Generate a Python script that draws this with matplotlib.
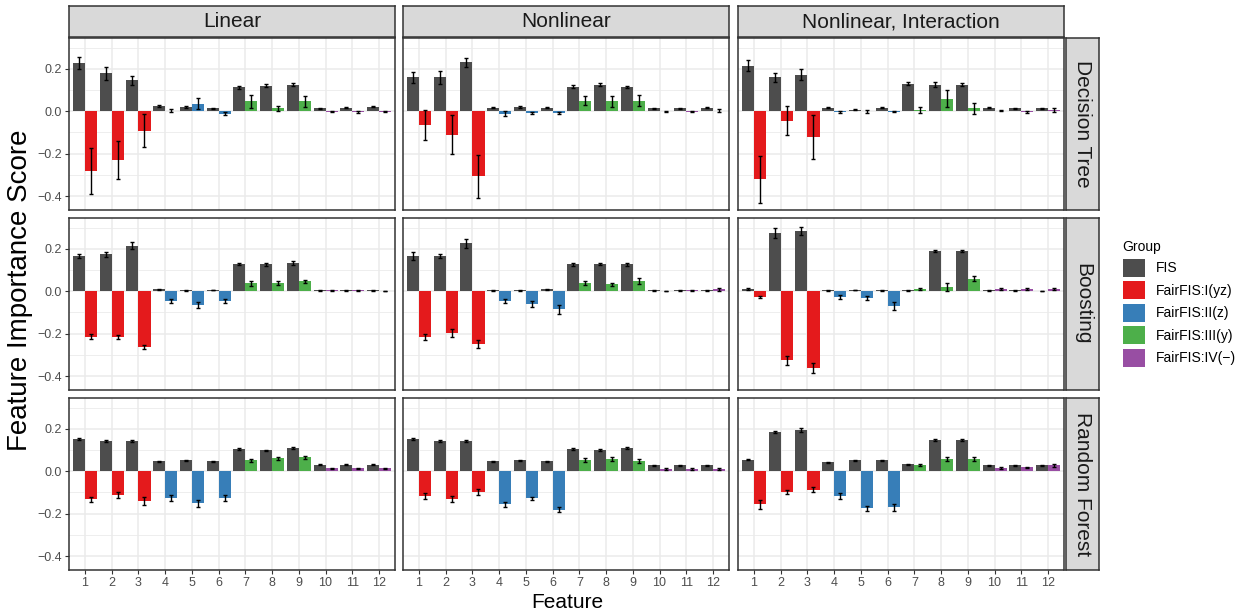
import numpy as np
import matplotlib.pyplot as plt
from matplotlib.patches import Patch

plt.rcParams['font.family'] = ['Liberation Sans', 'DejaVu Sans']

features = np.arange(1, 13)
settings = ["Linear", "Nonlinear", "Nonlinear, Interaction"]
models = ["Decision Tree", "Boosting", "Random Forest"]
groups = ["FIS", "FairFIS:I(yz)", "FairFIS:II(z)", "FairFIS:III(y)", "FairFIS:IV(\u2212)"]
group_colors = ["#4D4D4D", "#E41A1C", "#377EB8", "#4DAF4A", "#984EA3"]
# group of the FairFIS bar for each feature (index into groups)
feature_group = [1, 1, 1, 2, 2, 2, 3, 3, 3, 4, 4, 4]

# rows: Linear, Nonlinear, Nonlinear Interaction
dt_fis = [[0.228, 0.178, 0.145, 0.024, 0.019, 0.014, 0.112, 0.121, 0.126, 0.014, 0.017, 0.022],
          [0.159, 0.159, 0.230, 0.017, 0.022, 0.017, 0.116, 0.126, 0.116, 0.013, 0.013, 0.017],
          [0.215, 0.159, 0.173, 0.017, 0.008, 0.017, 0.130, 0.126, 0.126, 0.017, 0.013, 0.013]]
dt_fis_se = [[0.027, 0.030, 0.020, 0.005, 0.004, 0.003, 0.006, 0.008, 0.007, 0.003, 0.003, 0.003],
             [0.026, 0.029, 0.020, 0.004, 0.005, 0.003, 0.007, 0.008, 0.005, 0.003, 0.003, 0.003],
             [0.026, 0.022, 0.025, 0.004, 0.003, 0.004, 0.006, 0.012, 0.006, 0.003, 0.003, 0.003]]
dt_fair = [[-0.283, -0.228, -0.091, 0.003, 0.036, -0.011, 0.046, 0.013, 0.046, -0.002, -0.005, -0.002],
           [-0.066, -0.110, -0.307, -0.011, -0.009, -0.008, 0.050, 0.046, 0.050, 0.000, -0.003, 0.002],
           [-0.320, -0.044, -0.121, -0.003, 0.000, -0.002, 0.008, 0.060, 0.013, 0.003, -0.003, 0.005]]
dt_fair_se = [[0.108, 0.089, 0.076, 0.006, 0.026, 0.007, 0.030, 0.010, 0.027, 0.002, 0.004, 0.003],
              [0.071, 0.092, 0.103, 0.010, 0.004, 0.004, 0.020, 0.026, 0.026, 0.002, 0.002, 0.007],
              [0.111, 0.068, 0.102, 0.003, 0.006, 0.003, 0.014, 0.039, 0.027, 0.003, 0.003, 0.010]]

bo_fis = [[0.165, 0.175, 0.214, 0.009, 0.005, 0.006, 0.129, 0.127, 0.134, 0.005, 0.005, 0.005],
          [0.165, 0.165, 0.226, 0.005, 0.005, 0.009, 0.127, 0.127, 0.127, 0.005, 0.005, 0.005],
          [0.009, 0.274, 0.283, 0.005, 0.006, 0.005, 0.005, 0.189, 0.189, 0.005, 0.005, 0.001]]
bo_fis_se = [[0.010, 0.012, 0.016, 0.002, 0.002, 0.002, 0.004, 0.006, 0.008, 0.002, 0.002, 0.002],
             [0.018, 0.010, 0.020, 0.002, 0.002, 0.002, 0.008, 0.005, 0.008, 0.002, 0.002, 0.002],
             [0.005, 0.025, 0.020, 0.002, 0.002, 0.002, 0.002, 0.005, 0.005, 0.002, 0.002, 0.002]]
bo_fair = [[-0.215, -0.215, -0.263, -0.046, -0.064, -0.046, 0.038, 0.038, 0.047, 0.005, 0.005, 0.001],
           [-0.215, -0.197, -0.248, -0.046, -0.060, -0.085, 0.038, 0.033, 0.047, 0.001, 0.005, 0.009],
           [-0.027, -0.325, -0.362, -0.027, -0.033, -0.069, 0.009, 0.019, 0.060, 0.009, 0.009, 0.009]]
bo_fair_se = [[0.012, 0.010, 0.010, 0.010, 0.015, 0.010, 0.012, 0.010, 0.007, 0.002, 0.002, 0.002],
              [0.016, 0.018, 0.020, 0.010, 0.014, 0.020, 0.010, 0.008, 0.014, 0.002, 0.002, 0.006],
              [0.005, 0.022, 0.025, 0.010, 0.010, 0.018, 0.005, 0.020, 0.010, 0.004, 0.005, 0.005]]

rf_fis = [[0.151, 0.142, 0.142, 0.047, 0.052, 0.047, 0.104, 0.099, 0.110, 0.030, 0.030, 0.030],
          [0.151, 0.142, 0.142, 0.047, 0.052, 0.047, 0.104, 0.099, 0.110, 0.028, 0.028, 0.028],
          [0.055, 0.184, 0.195, 0.042, 0.052, 0.052, 0.033, 0.146, 0.146, 0.028, 0.028, 0.028]]
rf_fis_se = [[0.006, 0.005, 0.005, 0.003, 0.003, 0.003, 0.004, 0.003, 0.006, 0.002, 0.002, 0.002],
             [0.006, 0.005, 0.006, 0.003, 0.003, 0.003, 0.004, 0.004, 0.004, 0.002, 0.002, 0.002],
             [0.003, 0.004, 0.008, 0.002, 0.003, 0.003, 0.002, 0.005, 0.005, 0.002, 0.002, 0.002]]
rf_fair = [[-0.132, -0.112, -0.140, -0.127, -0.151, -0.127, 0.052, 0.061, 0.066, 0.014, 0.014, 0.014],
           [-0.116, -0.130, -0.097, -0.156, -0.127, -0.182, 0.052, 0.057, 0.047, 0.011, 0.011, 0.010],
           [-0.156, -0.097, -0.088, -0.116, -0.175, -0.170, 0.028, 0.057, 0.057, 0.014, 0.019, 0.028]]
rf_fair_se = [[0.012, 0.015, 0.020, 0.014, 0.015, 0.014, 0.008, 0.008, 0.006, 0.003, 0.003, 0.003],
              [0.015, 0.015, 0.015, 0.012, 0.008, 0.012, 0.010, 0.010, 0.010, 0.003, 0.003, 0.003],
              [0.020, 0.010, 0.012, 0.014, 0.012, 0.015, 0.005, 0.008, 0.008, 0.005, 0.003, 0.006]]

fis_all = [dt_fis, bo_fis, rf_fis]
fis_se_all = [dt_fis_se, bo_fis_se, rf_fis_se]
fair_all = [dt_fair, bo_fair, rf_fair]
fair_se_all = [dt_fair_se, bo_fair_se, rf_fair_se]

W, H = 1247, 613
fig = plt.figure(figsize=(W / 100, H / 100), dpi=100)

col_x = [69, 403, 738]
row_y = [38, 218, 398]
pw, ph = 326, 172
bw = 0.45
grid_c = "#EBEBEB"
border_c = "#333333"
strip_c = "#D9D9D9"
fair_colors = [group_colors[g] for g in feature_group]

for r in range(3):
    for c in range(3):
        ax = fig.add_axes([col_x[c] / W, 1 - (row_y[r] + ph) / H, pw / W, ph / H])
        fis = np.array(fis_all[r][c])
        fis_se = np.array(fis_se_all[r][c])
        fair = np.array(fair_all[r][c])
        fair_se = np.array(fair_se_all[r][c])

        ax.bar(features - bw / 2, fis, width=bw, color=group_colors[0], zorder=2)
        ax.bar(features + bw / 2, fair, width=bw, color=fair_colors, zorder=2)
        ax.errorbar(features - bw / 2, fis, yerr=fis_se, fmt="none", ecolor="black",
                    elinewidth=1.0, capsize=1.6, capthick=1.0, zorder=3)
        ax.errorbar(features + bw / 2, fair, yerr=fair_se, fmt="none", ecolor="black",
                    elinewidth=1.0, capsize=1.6, capthick=1.0, zorder=3)

        ax.set_xlim(0.4, 12.6)
        ax.set_ylim(-0.465, 0.345)
        ax.set_xticks(features)
        ax.set_yticks([-0.4, -0.2, 0.0, 0.2])
        ax.set_yticks([-0.3, -0.1, 0.1, 0.3], minor=True)
        ax.grid(True, which="major", color=grid_c, lw=1.1, zorder=0)
        ax.grid(True, which="minor", axis="y", color=grid_c, lw=0.6, zorder=0)
        ax.set_axisbelow(True)
        for s in ax.spines.values():
            s.set_color(border_c)
            s.set_linewidth(1.1)
        ax.tick_params(which="minor", length=0)
        ax.tick_params(which="major", length=3, color=border_c, width=0.8,
                       labelsize=9, labelcolor="#4D4D4D", pad=2)
        ax.set_yticklabels(["\u22120.4", "\u22120.2", "0.0", "0.2"])
        if c > 0:
            ax.tick_params(axis="y", labelleft=False, length=0)
        if r < 2:
            ax.tick_params(axis="x", labelbottom=False, length=0)

        if r == 0:
            sax = fig.add_axes([col_x[c] / W, 1 - 37 / H, pw / W, 31 / H])
            sax.set_xticks([]); sax.set_yticks([])
            sax.set_facecolor(strip_c)
            for s in sax.spines.values():
                s.set_color(border_c); s.set_linewidth(1.1)
            sax.text(0.5, 0.5, settings[c], ha="center", va="center",
                     fontsize=15, color="#1A1A1A", transform=sax.transAxes)
        if c == 2:
            sax = fig.add_axes([1066 / W, 1 - (row_y[r] + ph) / H, 33 / W, ph / H])
            sax.set_xticks([]); sax.set_yticks([])
            sax.set_facecolor(strip_c)
            for s in sax.spines.values():
                s.set_color(border_c); s.set_linewidth(1.1)
            sax.text(0.5, 0.5, models[r], ha="center", va="center", rotation=270,
                     fontsize=15, color="#1A1A1A", transform=sax.transAxes)

fig.text(20 / W, 1 - 290 / H, "Feature Importance Score", rotation=90,
         ha="center", va="center", fontsize=20)
fig.text(567 / W, 1 - 602 / H, "Feature", ha="center", va="center", fontsize=15)

handles = [Patch(facecolor=col, edgecolor="none") for col in group_colors]
fig.legend(handles, groups, title="Group", loc="upper left",
           bbox_to_anchor=(1110 / W, 1 - 228 / H), frameon=False,
           fontsize=10, title_fontsize=10, handlelength=1.65, handleheight=1.65,
           handletextpad=0.75, labelspacing=0.3, alignment="left")

fig.savefig("out.png", dpi=100)
